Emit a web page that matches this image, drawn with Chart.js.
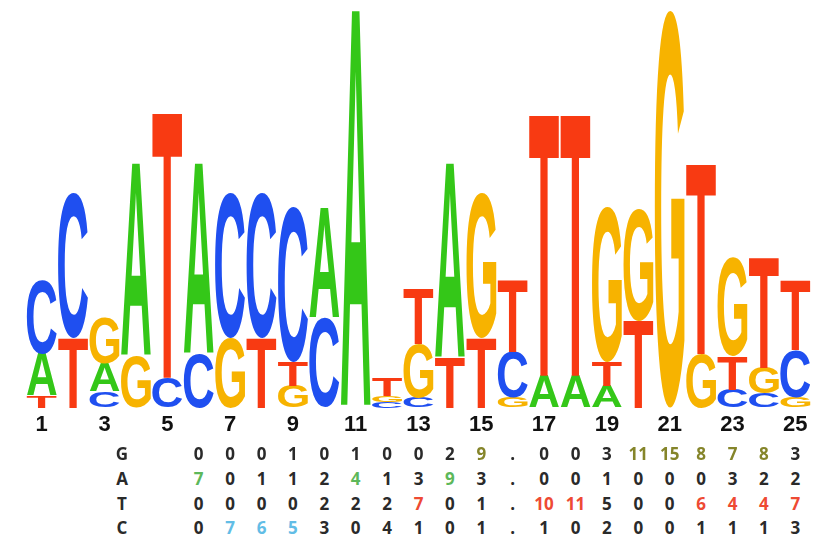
<!DOCTYPE html>
<html>
<head>
<meta charset="utf-8">
<script src="https://cdn.jsdelivr.net/npm/chart.js@4/dist/chart.umd.min.js"></script>
<style>
  html, body { margin: 0; padding: 0; background: #fff; }
  #wrap { position: relative; width: 827px; height: 543px; overflow: hidden; }
  #logo { position: absolute; left: 0; top: 0; }
  .cell {
    position: absolute;
    font: bold 17px "Open Sans", sans-serif;
    color: #2a2a2a;
    transform: translate(-50%, -50%);
    white-space: nowrap;
  }
</style>
</head>
<body>
<div id="wrap">
  <canvas id="logo" width="827" height="442"></canvas>
</div>
<script>
// positions of the motif
const positions = ["1","2","3","4","5","6","7","8","9","10","11","12","13","14","15","16","17","18","19","20","21","22","23","24","25"];

// letter heights in bits, per position
const bitsA = [0.21, 0, 0.14, 0.97, 0, 0.96, 0, 0, 0, 0.55, 2.0, 0, 0, 0.98, 0, 0, 0.16, 0.16, 0.11, 0, 0, 0, 0, 0, 0];
const bitsC = [0.37, 0.73, 0.08, 0, 0.15, 0.27, 0.73, 0.73, 0.78, 0.45, 0, 0.03, 0.05, 0, 0, 0.23, 0, 0, 0, 0, 0, 0, 0.09, 0.07, 0.24];
const bitsG = [0, 0, 0.23, 0.26, 0, 0, 0.35, 0, 0.11, 0, 0, 0.03, 0.27, 0, 0.73, 0.05, 0, 0, 0.78, 0.56, 2.0, 0.27, 0.50, 0.13, 0.05];
const bitsT = [0.06, 0.35, 0, 0, 1.34, 0, 0, 0.35, 0.12, 0, 0, 0.09, 0.28, 0.25, 0.35, 0.36, 1.32, 1.32, 0.12, 0.44, 0, 0.96, 0.17, 0.56, 0.35];

// count table under the logo (positions 6..25), null = "."
const tableStart = 6;
const countG = [0, 0, 0, 1, 0, 1, 0, 0, 2, 9, null, 0, 0, 3, 11, 15, 8, 7, 8, 3];
const countA = [7, 0, 1, 1, 2, 4, 1, 3, 9, 3, null, 0, 0, 1, 0, 0, 0, 3, 2, 2];
const countT = [0, 0, 0, 0, 2, 2, 2, 7, 0, 1, null, 10, 11, 5, 0, 0, 6, 4, 4, 7];
const countC = [0, 7, 6, 5, 3, 0, 4, 1, 0, 1, null, 1, 0, 2, 0, 0, 1, 1, 1, 3];

// coloured cells in the table, by position
const highG = [15, 20, 21, 22, 23, 24];
const highA = [6, 11, 14];
const highT = [13, 17, 18, 22, 23, 24, 25];
const highC = [7, 8, 9];

const letterColor = { A: "#34c718", C: "#1f4ff0", G: "#f7b300", T: "#f83a12" };
const tableColor = { G: "#85852a", A: "#5db85a", T: "#ee4a33", C: "#62bde6" };

// build stacks: smallest letter at the bottom
const bits = { A: bitsA, C: bitsC, G: bitsG, T: bitsT };
const order = ["A", "C", "G", "T"];
const datasets = [0, 1, 2, 3].map(() => ({ data: [], letters: [], backgroundColor: "rgba(0,0,0,0)", borderWidth: 0 }));
positions.forEach((p, j) => {
  const stack = order.map(l => ({ l, v: bits[l][j] })).sort((a, b) => a.v - b.v);
  stack.forEach((s, r) => {
    datasets[r].data.push(s.v);
    datasets[r].letters.push(s.v > 0 ? s.l : null);
  });
});

// draws each letter stretched into its bar
const glyphCache = {};
function glyphBox(ctx, letter) {
  if (!glyphCache[letter]) {
    ctx.font = 'bold 200px "Liberation Sans"';
    const m = ctx.measureText(letter);
    glyphCache[letter] = {
      left: m.actualBoundingBoxLeft,
      w: m.actualBoundingBoxLeft + m.actualBoundingBoxRight,
      asc: m.actualBoundingBoxAscent,
      h: m.actualBoundingBoxAscent + m.actualBoundingBoxDescent
    };
  }
  return glyphCache[letter];
}

const logoLetters = {
  id: "logoLetters",
  afterDatasetsDraw(chart) {
    const ctx = chart.ctx;
    chart.data.datasets.forEach((ds, i) => {
      chart.getDatasetMeta(i).data.forEach((bar, j) => {
        const letter = ds.letters[j];
        if (!letter) return;
        const { x, y, base, width } = bar.getProps(["x", "y", "base", "width"], true);
        const h = base - y;
        if (h < 0.5) return;
        ctx.save();
        const g = glyphBox(ctx, letter);
        ctx.font = 'bold 200px "Liberation Sans"';
        ctx.fillStyle = letterColor[letter];
        ctx.textBaseline = "alphabetic";
        ctx.textAlign = "left";
        ctx.translate(x - width / 2, y);
        ctx.scale(width / g.w, h / g.h);
        ctx.fillText(letter, g.left, g.asc);
        ctx.restore();
      });
    });
  }
};

const chart = new Chart(document.getElementById("logo"), {
  type: "bar",
  data: { labels: positions, datasets: datasets },
  options: {
    responsive: false,
    animation: false,
    events: [],
    layout: { padding: { left: 26, right: 16, top: 10, bottom: 0 } },
    plugins: { legend: { display: false }, tooltip: { enabled: false } },
    datasets: { bar: { barPercentage: 1, categoryPercentage: 0.95 } },
    scales: {
      x: {
        stacked: true,
        grid: { display: false, drawTicks: false },
        border: { display: false },
        ticks: {
          autoSkip: false,
          maxRotation: 0,
          padding: 4,
          color: "#111",
          font: { family: "Liberation Sans", size: 22, weight: "bold" },
          callback: (v, i) => (i % 2 === 0 ? positions[i] : "")
        }
      },
      y: { stacked: true, display: false, min: 0, max: 2 }
    }
  },
  plugins: [logoLetters]
});

// count table, columns lined up with the logo positions
const wrap = document.getElementById("wrap");
const rows = [
  { key: "G", counts: countG, high: highG, y: 453 },
  { key: "A", counts: countA, high: highA, y: 478 },
  { key: "T", counts: countT, high: highT, y: 503 },
  { key: "C", counts: countC, high: highC, y: 527 }
];
function addCell(text, x, y, color) {
  const d = document.createElement("div");
  d.className = "cell";
  d.textContent = text;
  d.style.left = x + "px";
  d.style.top = y + "px";
  if (color) d.style.color = color;
  wrap.appendChild(d);
}
rows.forEach(r => {
  addCell(r.key, 122, r.y);
  r.counts.forEach((c, k) => {
    const pos = tableStart + k;
    const x = chart.scales.x.getPixelForValue(pos - 1);
    const color = r.high.includes(pos) ? tableColor[r.key] : null;
    addCell(c === null ? "." : String(c), x, r.y, color);
  });
});
</script>
</body>
</html>
